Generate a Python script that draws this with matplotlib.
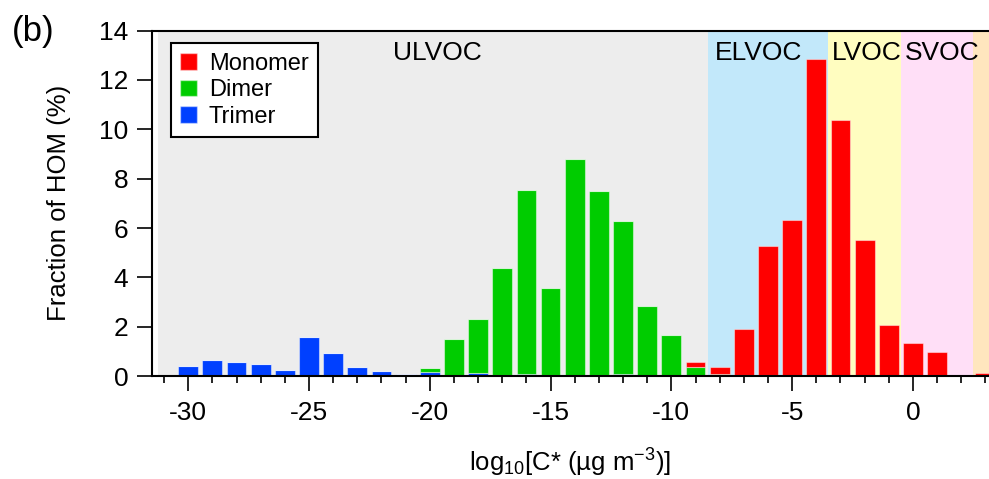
import matplotlib

matplotlib.use("Agg")
import matplotlib.pyplot as plt
import numpy as np
from matplotlib.patches import Patch

plt.rcParams["font.family"] = ["Liberation Sans", "DejaVu Sans"]
plt.rcParams["mathtext.fontset"] = "custom"
plt.rcParams["mathtext.rm"] = "Liberation Sans"
plt.rcParams["mathtext.default"] = "regular"
plt.rcParams["axes.unicode_minus"] = False

# log10 C* bins (centres)
bins = list(range(-31, 4))

trimer = [0.02, 0.40, 0.65, 0.57, 0.50, 0.24, 1.58, 0.95, 0.35, 0.20, 0.08,
          0.15, 0.02, 0.11, 0.03, 0.10, 0.03, 0.02, 0.03, 0.07, 0.02, 0.02,
          0.01, 0.01, 0.01, 0.01, 0.01, 0.01, 0.01, 0.01, 0.01, 0.01, 0.01,
          0.03, 0.01]
dimer = [0, 0, 0, 0, 0, 0, 0, 0, 0, 0, 0,
         0.19, 1.48, 2.20, 4.35, 7.45, 3.52, 8.76, 7.46, 6.23, 2.83, 1.63,
         0.34, 0.06, 0.02, 0.05, 0.01, 0.01, 0.01, 0.01, 0.01, 0.01, 0.01,
         0, 0]
monomer = [0, 0, 0, 0, 0, 0, 0, 0, 0, 0, 0,
           0, 0, 0, 0, 0, 0, 0, 0, 0, 0, 0,
           0.22, 0.28, 1.86, 5.21, 6.31, 12.83, 10.37, 5.48, 2.05, 1.31, 0.97,
           0, 0.13]

# volatility classes (edges) and labels
classes = ["ULVOC", "ELVOC", "LVOC", "SVOC", "IVOC"]
class_edges = [-31.25, -8.5, -3.5, -0.5, 2.5, 3.2]
class_colors = ["#ededed", "#c2e8fa", "#fffdc0", "#ffdff7", "#ffe6be"]
label_x = [-19.7, -6.4, -1.9, 1.2]

fig = plt.figure(figsize=(9.89, 4.79), dpi=100)
ax = fig.add_axes([0.1537, 0.215, 0.8463, 0.721])

for x0, x1, c in zip(class_edges[:-1], class_edges[1:], class_colors):
    ax.axvspan(x0, x1, color=c, lw=0, zorder=0)
for name, xc in zip(classes, label_x):
    ax.text(xc, 13.1, name, ha="center", va="center", fontsize=19, zorder=3)

x = np.array(bins)
tri = np.array(trimer)
dim = np.array(dimer)
mon = np.array(monomer)
w = 0.82
ec = (1, 1, 1, 0.45)
ax.bar(x, tri, w, color="#0040ff", edgecolor=ec, lw=0.8, zorder=2, label="Trimer")
ax.bar(x, dim, w, bottom=tri, color="#00cc00", edgecolor=ec, lw=0.8, zorder=2,
       label="Dimer")
ax.bar(x, mon, w, bottom=tri + dim, color="#ff0000", edgecolor=ec, lw=0.8,
       zorder=2, label="Monomer")

ax.set_xlim(-31.5, 3.15)
ax.set_ylim(0, 14)
ax.set_xticks(range(-30, 1, 5))
ax.set_xticks(range(-31, 4), minor=True)
ax.set_yticks(range(0, 15, 2))
ax.tick_params(axis="both", which="major", direction="out", length=10.5,
               width=1.2, labelsize=19)
ax.tick_params(axis="x", which="major", pad=7.5)
ax.tick_params(axis="y", which="major", pad=6.5)
ax.tick_params(axis="x", which="minor", direction="out", length=5, width=1.2)
ax.spines["right"].set_visible(False)
for s in ("left", "bottom", "top"):
    ax.spines[s].set_linewidth(1.5)

ax.set_ylabel("Fraction of HOM (%)", fontsize=18.5, labelpad=20)
ax.set_xlabel("log$_{10}$[C* (µg m$^{-3}$)]", fontsize=18.5, labelpad=16)

handles = [Patch(facecolor="#ff0000", edgecolor=ec),
           Patch(facecolor="#00cc00", edgecolor=ec),
           Patch(facecolor="#0040ff", edgecolor=ec)]
leg = ax.legend(handles, ["Monomer", "Dimer", "Trimer"], loc="upper left",
                bbox_to_anchor=(0.0227, 0.964), fontsize=17, frameon=True,
                fancybox=False, edgecolor="black", framealpha=1,
                handlelength=0.7, handleheight=0.7, handletextpad=0.5,
                labelspacing=0.2, borderpad=0.4, borderaxespad=0)
leg.get_frame().set_linewidth(1.5)

fig.text(0.012, 0.968, "(b)", fontsize=25, va="top", ha="left")

fig.savefig("out.png", dpi=100)
